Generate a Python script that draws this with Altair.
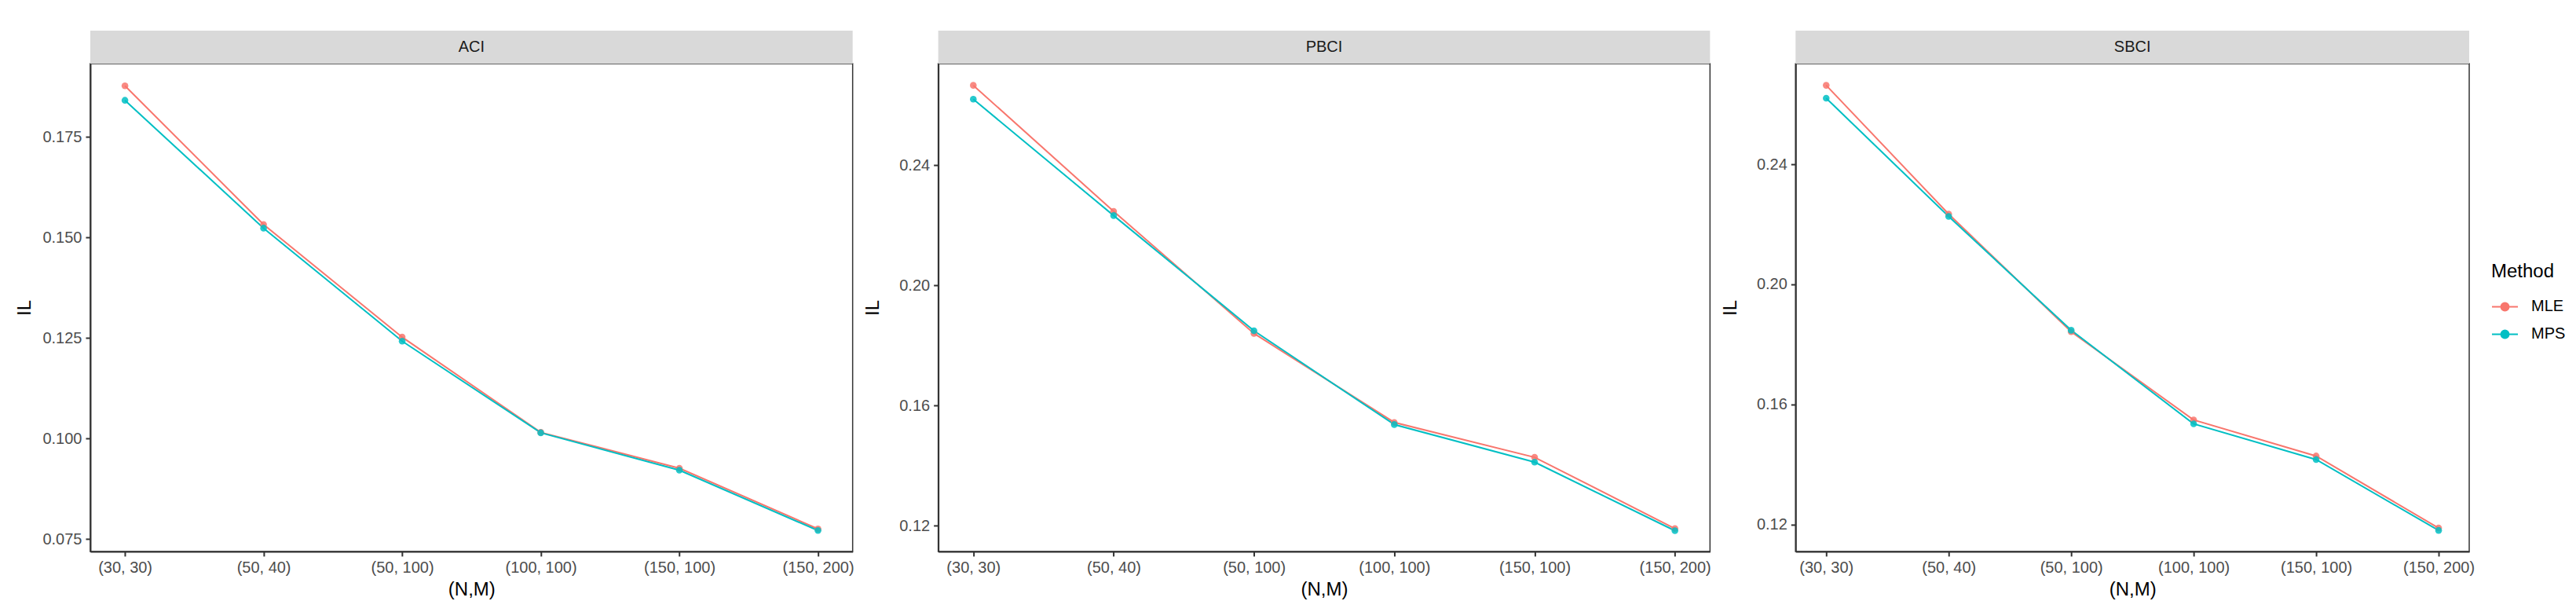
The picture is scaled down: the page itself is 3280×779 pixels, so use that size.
import altair as alt
import pandas as pd

# ---- data ----
nm_labels = ["(30, 30)", "(50, 40)", "(50, 100)", "(100, 100)", "(150, 100)", "(150, 200)"]
methods = ["MLE", "MPS"]
panels = ["ACI", "PBCI", "SBCI"]

aci_mle = [0.1877, 0.1532, 0.1252, 0.1015, 0.0926, 0.0775]
aci_mps = [0.1841, 0.1523, 0.1242, 0.1014, 0.0921, 0.0771]
pbci_mle = [0.2665, 0.2246, 0.1840, 0.1544, 0.1428, 0.1191]
pbci_mps = [0.2619, 0.2232, 0.1849, 0.1537, 0.1412, 0.1184]
sbci_mle = [0.2663, 0.2234, 0.1842, 0.1548, 0.1428, 0.1188]
sbci_mps = [0.2620, 0.2226, 0.1847, 0.1535, 0.1416, 0.1180]

aci_ticks = [0.075, 0.100, 0.125, 0.150, 0.175]
bci_ticks = [0.12, 0.16, 0.20, 0.24]

FONT = "Liberation Sans"
COLORS = ["#F8766D", "#00BFC4"]
H = 621


def long_table(mle, mps):
    rows = []
    for m, vals in zip(methods, [mle, mps]):
        for i, (nm, v) in enumerate(zip(nm_labels, vals)):
            rows.append({"NM": nm, "idx": i, "Method": m, "IL": v})
    return pd.DataFrame(rows)


LEGEND_PATH = "M -1 0 L 1 0 M 0.3 0 A 0.3 0.3 0 1 1 -0.3 0 A 0.3 0.3 0 1 1 0.3 0 Z"


def panel(name, data, width, domain, ticks, fmt):
    strip_df = pd.DataFrame({"label": [name]})
    strip = alt.Chart(strip_df).mark_rect(color="#D9D9D9").encode(
        x=alt.value(0), x2=alt.value(width), y=alt.value(-42), y2=alt.value(0)
    )
    strip_text = alt.Chart(strip_df).mark_text(
        font=FONT, fontSize=20, color="#1A1A1A", baseline="middle", align="center"
    ).encode(x=alt.value(width / 2), y=alt.value(-21), text="label:N")

    x = alt.X(
        "NM:N",
        sort=nm_labels,
        scale=alt.Scale(type="point", padding=0.25),
        axis=alt.Axis(title="(N,M)", labelAngle=0, labelPadding=5, titlePadding=6,
                      labelOverlap=False),
    )
    y = alt.Y(
        "IL:Q",
        scale=alt.Scale(domain=domain, nice=False, zero=False),
        axis=alt.Axis(title="IL", values=ticks, format=fmt, labelPadding=5,
                      minExtent=64, maxExtent=64, titlePadding=7),
    )
    color = alt.Color(
        "Method:N",
        scale=alt.Scale(domain=methods, range=COLORS),
        legend=alt.Legend(
            title="Method",
            symbolType=LEGEND_PATH,
            symbolSize=1089,
            symbolStrokeWidth=2,
            symbolOpacity=1,
        ),
    )
    base = alt.Chart(data)
    lines = base.mark_line(strokeWidth=2).encode(
        x=x, y=y, color=color, order=alt.Order("idx:Q")
    )
    points = base.mark_point(filled=True, size=74, opacity=0.85).encode(
        x=x, y=y, color=color
    )
    return alt.layer(strip, strip_text, lines, points).properties(width=width, height=H)


c1 = panel("ACI", long_table(aci_mle, aci_mps), 971, [0.0719, 0.1932], aci_ticks, ".3f")
c2 = panel("PBCI", long_table(pbci_mle, pbci_mps), 983, [0.1115, 0.2737], bci_ticks, ".2f")
c3 = panel("SBCI", long_table(sbci_mle, sbci_mps), 858, [0.1110, 0.2735], bci_ticks, ".2f")

chart = (
    alt.hconcat(c1, c2, c3, spacing=109, bounds="flush")
    .resolve_scale(x="independent", y="independent", color="shared")
    .properties(padding={"left": 11, "top": 30, "right": 5, "bottom": 5})
    .configure_view(stroke="#333333", strokeWidth=1.5)
    .configure_axis(
        grid=False,
        domainColor="#333333",
        domainWidth=2,
        tickColor="#333333",
        tickWidth=2,
        tickSize=6,
        labelFont=FONT,
        labelFontSize=20,
        labelColor="#4D4D4D",
        titleFont=FONT,
        titleFontSize=24,
        titleColor="black",
        titleFontWeight="normal",
    )
    .configure_legend(
        orient="none",
        legendX=3058,
        legendY=253,
        padding=0,
        titleFont=FONT,
        titleFontSize=24,
        titleFontWeight="normal",
        titleColor="black",
        titlePadding=15,
        labelFont=FONT,
        labelFontSize=20,
        labelColor="black",
        labelOffset=16,
        rowPadding=7,
    )
)

chart.save("out.html", embed_options={"renderer": "svg", "actions": False})
